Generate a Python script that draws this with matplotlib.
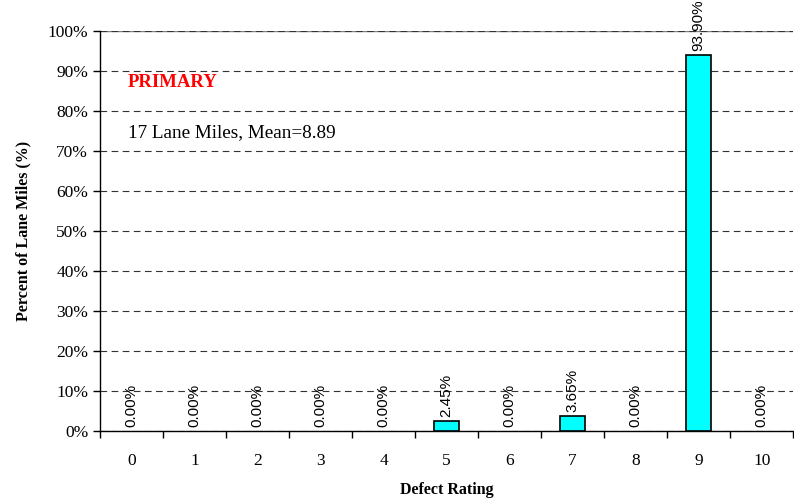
import matplotlib
matplotlib.use("Agg")
import matplotlib.pyplot as plt
from matplotlib.ticker import PercentFormatter

ratings = list(range(11))
percents = [0.0, 0.0, 0.0, 0.0, 0.0, 2.45, 0.0, 3.65, 0.0, 93.90, 0.0]
labels = ["0.00%", "0.00%", "0.00%", "0.00%", "0.00%", "2.45%", "0.00%", "3.65%", "0.00%", "93.90%", "0.00%"]

plt.rcParams['font.family'] = ['Liberation Serif', 'DejaVu Serif']

fig = plt.figure(figsize=(7.94, 5.01), dpi=100)
ax = fig.add_axes([0.126, 0.1397, 0.873, 0.7985])

widths = [1.2 if v > 0 else 0 for v in percents]
ax.bar(ratings, percents, width=0.4, color='#00ffff', edgecolor='black', linewidth=widths, zorder=3)
for x, v, t in zip(ratings, percents, labels):
    ax.annotate(t, (x, v), xytext=(0, 3), textcoords='offset points', rotation=90,
                ha='center', va='bottom', fontsize=11, family='Liberation Sans',
                annotation_clip=False, zorder=4)

ax.set_xlim(-0.5, 10.5)
ax.set_ylim(0, 100)
ax.set_yticks(range(0, 101, 10))
ax.yaxis.set_major_formatter(PercentFormatter(decimals=0))
ax.set_xticks(ratings)
ax.set_xticks([i - 0.5 for i in range(12)], minor=True)
ax.tick_params(axis='x', which='major', length=0, pad=16, labelsize=12.5)
ax.tick_params(axis='x', which='minor', length=5, width=1)
ax.tick_params(axis='y', length=5, width=1, labelsize=12.5)

ax.grid(axis='y', linestyle=(0, (6, 4)), color='#333333', linewidth=0.8, zorder=0)
ax.axhline(100, color='gray', linewidth=1, zorder=1)
for s in ['top', 'right']:
    ax.spines[s].set_visible(False)
ax.spines['left'].set_linewidth(1)
ax.spines['bottom'].set_linewidth(1)

ax.text(0.04, 0.87, "PRIMARY", transform=ax.transAxes, color='red',
        fontweight='bold', fontsize=13.5, va='center')
ax.text(0.04, 0.745, "17 Lane Miles, Mean=8.89", transform=ax.transAxes,
        fontsize=13.8, va='center')

ax.set_xlabel("Defect Rating", fontweight='bold', fontsize=11.5, labelpad=9)
ax.set_ylabel("Percent of Lane Miles (%)", fontweight='bold', fontsize=11.5, labelpad=12)

fig.savefig("out.png", dpi=100)
